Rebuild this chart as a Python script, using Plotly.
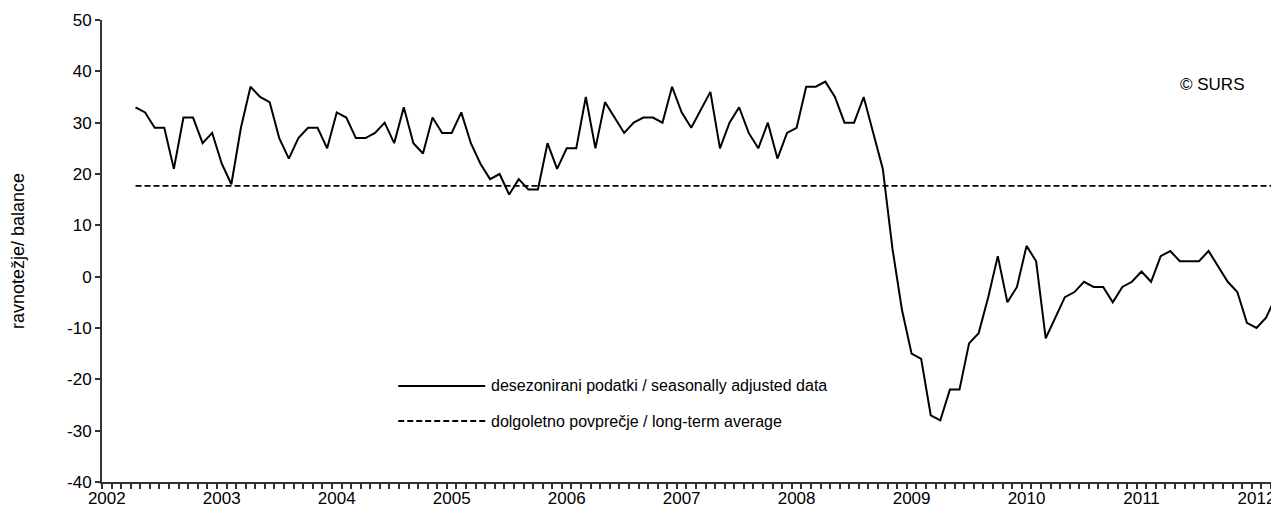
import plotly.graph_objects as go

# Monthly data, April 2002 - April 2012
start_year = 2002
start_month = 4
values = [
    33, 32, 29, 29, 21, 31, 31, 26, 28,              # 2002 Apr-Dec
    22, 18, 29, 37, 35, 34, 27, 23, 27, 29, 29, 25,  # 2003
    32, 31, 27, 27, 28, 30, 26, 33, 26, 24, 31, 28,  # 2004
    28, 32, 26, 22, 19, 20, 16, 19, 17, 17, 26, 21,  # 2005
    25, 25, 35, 25, 34, 31, 28, 30, 31, 31, 30, 37,  # 2006
    32, 29, 32.5, 36, 25, 30, 33, 28, 25, 30, 23, 28,  # 2007
    29, 37, 37, 38, 35, 30, 30, 35, 28, 21, 5.5, -6.5,  # 2008
    -15, -16, -27, -28, -22, -22, -13, -11, -4, 4, -5, -2,  # 2009
    6, 3, -12, -8, -4, -3, -1, -2, -2, -5, -2, -1,   # 2010
    1, -1, 4, 5, 3, 3, 3, 5, 2, -1, -3, -9,          # 2011
    -10, -8, -4, -8,                                 # 2012 Jan-Apr
]
long_term_average = 17.7
years = list(range(2002, 2013))
year_labels = [str(y) for y in years]
y_ticks = list(range(-40, 51, 10))
y_tick_labels = [str(v) for v in y_ticks]

series_name = "desezonirani podatki / seasonally adjusted data"
avg_name = "dolgoletno povprečje / long-term average"
y_title = "ravnotežje/ balance"
credit = "© SURS"

# month centers as decimal years
x = [start_year + (start_month - 1 + i + 0.5) / 12 for i in range(len(values))]

FONT = "Liberation Sans, Arial, sans-serif"

# the page body adds an 8px offset; figure coords = window coords - 8
OFF = 8
W, H = 1279 - OFF, 518 - OFF
L, R, T, B = 101.7 - OFF, 1279 - OFF, 20 - OFF, 482 - OFF

def px(xw):
    return (xw - OFF - L) / (R - L)

def py(yw):
    return (B - (yw - OFF)) / (B - T)

fig = go.Figure()
fig.add_trace(go.Scatter(x=x, y=values, mode="lines", name=series_name,
                         line=dict(color="black", width=2), showlegend=False))
fig.add_trace(go.Scatter(x=x, y=[long_term_average] * len(x), mode="lines",
                         name=avg_name, line=dict(color="black", width=1.8, dash="6px,3px"),
                         showlegend=False))

shapes = [
    dict(type="line", xref="paper", yref="paper", x0=px(398), x1=px(485), y0=py(386), y1=py(386),
         line=dict(color="black", width=2)),
    dict(type="line", xref="paper", yref="paper", x0=px(398), x1=px(485), y0=py(421), y1=py(421),
         line=dict(color="black", width=1.8, dash="6px,3px")),
]
annotations = [
    dict(xref="paper", yref="paper", x=px(489), y=py(386), text=series_name, showarrow=False,
         xanchor="left", yanchor="middle", font=dict(size=16, color="black", family=FONT)),
    dict(xref="paper", yref="paper", x=px(489), y=py(421), text=avg_name, showarrow=False,
         xanchor="left", yanchor="middle", font=dict(size=16, color="black", family=FONT)),
    dict(xref="paper", yref="paper", x=px(1212), y=py(85), text=credit, showarrow=False,
         xanchor="center", yanchor="middle", font=dict(size=17, color="black", family=FONT)),
]

fig.update_layout(
    width=W, height=H,
    margin=dict(l=L, r=W - R, t=T, b=H - B, pad=0),
    paper_bgcolor="white", plot_bgcolor="white",
    font=dict(family=FONT, size=17, color="black"),
    shapes=shapes, annotations=annotations,
    showlegend=False,
)
fig.update_xaxes(
    range=[2002, 2002 + 122.85 / 12],
    tickvals=[y + 0.5 / 12 for y in years], ticktext=year_labels,
    ticks="", showgrid=False, zeroline=False,
    showline=True, linecolor="#333333", linewidth=2,
    minor=dict(dtick=1 / 12, tick0=2002, ticks="outside", ticklen=5, tickwidth=1.5,
               tickcolor="#333333", showgrid=False),
    tickfont=dict(size=17, family=FONT),
)
fig.update_yaxes(
    range=[-40, 50], tickvals=y_ticks, ticktext=y_tick_labels,
    ticks="outside", ticklen=5, tickwidth=1.5, tickcolor="#333333",
    showgrid=False, zeroline=False,
    showline=True, linecolor="#333333", linewidth=2,
    tickfont=dict(size=17, family=FONT),
    title=dict(text=y_title, font=dict(size=18, family=FONT), standoff=41),
)

fig.write_html("out.html")
